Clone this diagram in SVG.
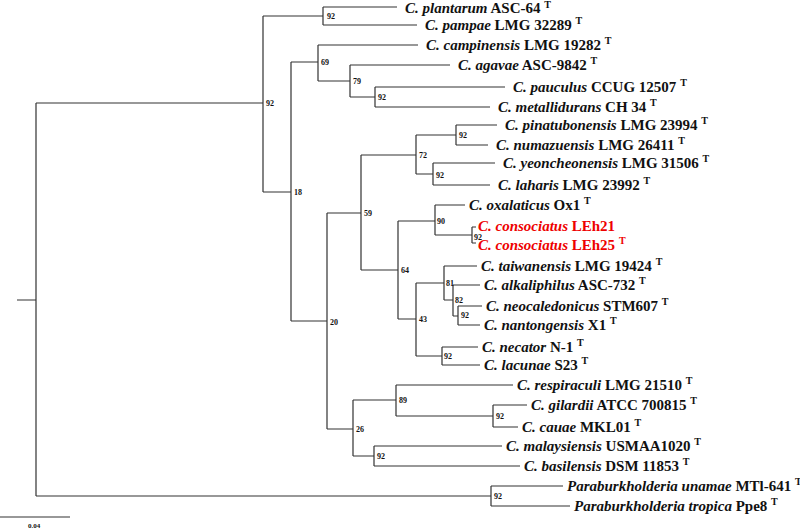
<svg xmlns="http://www.w3.org/2000/svg" width="800" height="529" viewBox="0 0 800 529">
<style>
.e{stroke:#333;stroke-width:1.2;fill:none}
.l{font-family:"Liberation Serif",serif;font-size:15px;font-weight:bold;fill:#111}
.l .s{font-style:italic}
.r{fill:#e00}
.b{font-family:"Liberation Serif",serif;font-size:8px;font-weight:bold;fill:#111}
.t{font-size:10px}
</style>
<rect width="800" height="529" fill="#fff"/>
<g id="connectors" class="e">
<path d="M17 300H36M36 103V496M36 103H263M36 496H491"/>
<path d="M263 16V192M263 16H323M323 7V25M323 7H397M323 25H417"/>
<path d="M263 192H291M291 62V321M291 62H318M318 45V81M318 45H418M318 81H350M350 65V97M350 65H450M350 97H375M375 87V107M375 87H505M375 107H490"/>
<path d="M291 321H327M327 213V429M327 213H361M361 155V270M361 155H416M416 135V174M416 135H456M456 125V145M456 125H497M456 145H488M416 174H433M433 163V185M433 163H495M433 185H490"/>
<path d="M361 270H398M398 221V319M398 221H435M435 205V235M435 205H465M435 235H472M472 227V243M472 227H476M472 243H476"/>
<path d="M398 319H416M416 283V356M416 283H444M444 266V300M444 266H477M444 300H453M453 285V316M453 285H480M453 316H458M458 306V325M458 306H482M458 325H480M416 356H442M442 347V365M442 347H478M442 365H480"/>
<path d="M327 429H353M353 400V456M353 400H396M396 385V416M396 385H513M396 416H493M493 405V427M493 405H527M493 427H518M353 456H374M374 446V466M374 446H502M374 466H520"/>
<path d="M491 486V506M491 486H563M491 506H570"/>
<path d="M0 517H70"/>
</g>
<g id="leaves" class="l">
<g id="n1"><text x="405" y="13"><tspan class="s">C. plantarum</tspan> ASC-64 <tspan class="t" dy="-5">T</tspan></text></g>
<g id="n2"><text x="425" y="30"><tspan class="s">C. pampae</tspan> LMG 32289 <tspan class="t" dy="-6">T</tspan></text></g>
<g id="n3"><text x="426" y="50"><tspan class="s">C. campinensis</tspan> LMG 19282 <tspan class="t" dy="-6">T</tspan></text></g>
<g id="n4"><text x="458" y="70"><tspan class="s">C. agavae</tspan> ASC-9842 <tspan class="t" dy="-6">T</tspan></text></g>
<g id="n5"><text x="513" y="92"><tspan class="s">C. pauculus</tspan> CCUG 12507 <tspan class="t" dy="-6">T</tspan></text></g>
<g id="n6"><text x="498" y="112"><tspan class="s">C. metallidurans</tspan> CH 34 <tspan class="t" dy="-6">T</tspan></text></g>
<g id="n7"><text x="505" y="130"><tspan class="s">C. pinatubonensis</tspan> LMG 23994 <tspan class="t" dy="-6">T</tspan></text></g>
<g id="n8"><text x="496" y="150"><tspan class="s">C. numazuensis</tspan> LMG 26411 <tspan class="t" dy="-6">T</tspan></text></g>
<g id="n9"><text x="503" y="168"><tspan class="s">C. yeoncheonensis</tspan> LMG 31506 <tspan class="t" dy="-6">T</tspan></text></g>
<g id="n10"><text x="498" y="190"><tspan class="s">C. laharis</tspan> LMG 23992 <tspan class="t" dy="-6">T</tspan></text></g>
<g id="n11"><text x="469" y="210"><tspan class="s">C. oxalaticus</tspan> Ox1 <tspan class="t" dy="-6">T</tspan></text></g>
<g id="n12"><text class="r" x="478" y="231"><tspan class="s">C. consociatus</tspan> LEh21</text></g>
<g id="n13"><text class="r" x="478" y="250"><tspan class="s">C. consociatus</tspan> LEh25 <tspan class="t" dy="-6">T</tspan></text></g>
<g id="n14"><text x="481" y="271"><tspan class="s">C. taiwanensis</tspan> LMG 19424 <tspan class="t" dy="-6">T</tspan></text></g>
<g id="n15"><text x="484" y="290"><tspan class="s">C. alkaliphilus</tspan> ASC-732 <tspan class="t" dy="-6">T</tspan></text></g>
<g id="n16"><text x="486" y="311"><tspan class="s">C. neocaledonicus</tspan> STM607 <tspan class="t" dy="-6">T</tspan></text></g>
<g id="n17"><text x="484" y="330"><tspan class="s">C. nantongensis</tspan> X1 <tspan class="t" dy="-6">T</tspan></text></g>
<g id="n18"><text x="482" y="352"><tspan class="s">C. necator</tspan> N-1 <tspan class="t" dy="-6">T</tspan></text></g>
<g id="n19"><text x="484" y="370"><tspan class="s">C. lacunae</tspan> S23 <tspan class="t" dy="-6">T</tspan></text></g>
<g id="n20"><text x="517" y="390"><tspan class="s">C. respiraculi</tspan> LMG 21510 <tspan class="t" dy="-6">T</tspan></text></g>
<g id="n21"><text x="531" y="410"><tspan class="s">C. gilardii</tspan> ATCC 700815 <tspan class="t" dy="-6">T</tspan></text></g>
<g id="n22"><text x="522" y="432"><tspan class="s">C. cauae</tspan> MKL01 <tspan class="t" dy="-6">T</tspan></text></g>
<g id="n23"><text x="506" y="451"><tspan class="s">C. malaysiensis</tspan> USMAA1020 <tspan class="t" dy="-6">T</tspan></text></g>
<g id="n24"><text x="524" y="471"><tspan class="s">C. basilensis</tspan> DSM 11853 <tspan class="t" dy="-6">T</tspan></text></g>
<g id="n25"><text x="567" y="491"><tspan class="s">Paraburkholderia unamae</tspan> MTl-641 <tspan class="t" dy="-6">T</tspan></text></g>
<g id="n26"><text x="574" y="511"><tspan class="s">Paraburkholderia tropica</tspan> Ppe8 <tspan class="t" dy="-6">T</tspan></text></g>
</g>
<g id="bootstrap" class="b">
<text x="327" y="19">92</text><text x="266" y="106">92</text><text x="321" y="65">69</text>
<text x="353" y="84">79</text><text x="378" y="100">92</text><text x="294" y="195">18</text>
<text x="459" y="138">92</text><text x="419" y="158">72</text><text x="436" y="178">92</text>
<text x="364" y="216">59</text><text x="330" y="325">20</text><text x="437" y="224">90</text>
<text x="474" y="240">92</text><text x="401" y="273">64</text><text x="446" y="286">81</text>
<text x="455" y="303">82</text><text x="461" y="318">92</text><text x="419" y="322">43</text>
<text x="444" y="359">92</text><text x="399" y="403">89</text><text x="496" y="419">92</text>
<text x="356" y="432">26</text><text x="377" y="459">92</text><text x="494" y="499">92</text>
<text x="28" y="528" style="font-size:7px">0.04</text>
</g>
</svg>
